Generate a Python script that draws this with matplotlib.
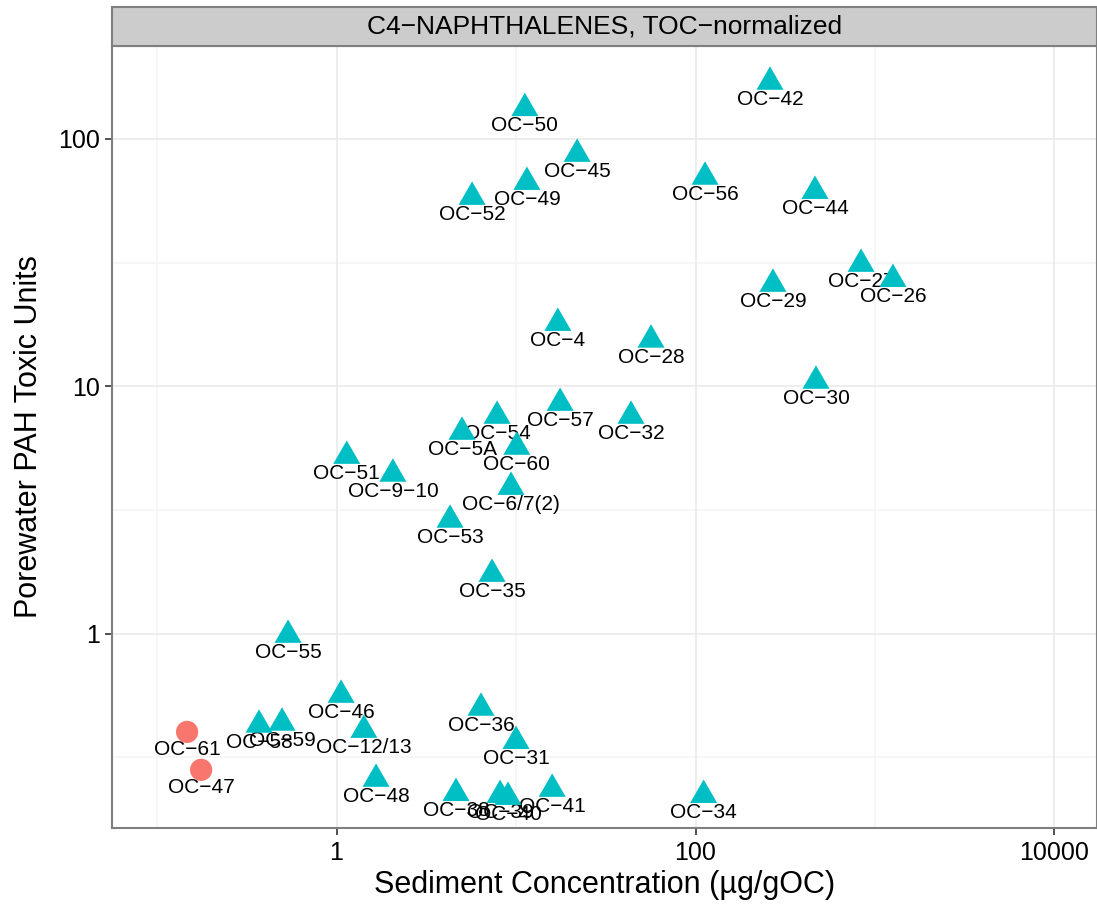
import matplotlib
matplotlib.use("Agg")
import matplotlib.pyplot as plt
from matplotlib.patches import Rectangle
import numpy as np

plt.rcParams['font.family'] = ['Liberation Sans', 'DejaVu Sans']

# Data
tri_labels = ["OC−42", "OC−50", "OC−45", "OC−56", "OC−49", "OC−52", "OC−44",
              "OC−27", "OC−26", "OC−29", "OC−4", "OC−28", "OC−30", "OC−57",
              "OC−32", "OC−54", "OC−5A", "OC−60", "OC−51", "OC−9−10",
              "OC−6/7(2)", "OC−53", "OC−35", "OC−55", "OC−46", "OC−36",
              "OC−58", "OC−59", "OC−12/13", "OC−31", "OC−48", "OC−38",
              "OC−39", "OC−40", "OC−41", "OC−34"]
tri_sediment = [260, 11.2, 21.9, 113, 11.5, 5.69, 463,
                836, 1259, 270, 17.1, 56.5, 469, 17.6,
                43.7, 7.84, 5.00, 10.1, 1.14, 2.06,
                9.38, 4.29, 7.35, 0.537, 1.06, 6.38,
                0.370, 0.497, 1.42, 10.0, 1.66, 4.63,
                8.15, 9.02, 15.9, 111]
tri_toxic = [170, 133, 86.9, 70.2, 66.9, 58.2, 61.5,
             31.2, 27.1, 25.9, 18.0, 15.4, 10.5, 8.55,
             7.58, 7.58, 6.53, 5.68, 5.22, 4.42,
             3.91, 2.88, 1.74, 0.986, 0.564, 0.500,
             0.427, 0.435, 0.407, 0.367, 0.258, 0.226,
             0.222, 0.218, 0.235, 0.222]

circ_labels = ["OC−61", "OC−47"]
circ_sediment = [0.147, 0.176]
circ_toxic = [0.400, 0.281]

x_ticks = [1, 100, 10000]
x_ticklabels = ["1", "100", "10000"]
y_ticks = [1, 10, 100]
y_ticklabels = ["1", "10", "100"]

W, H = 1097, 913
fig = plt.figure(figsize=(W / 100, H / 100), dpi=100)
left, right, bottom, top = 112, 1097, 828, 46
ax = fig.add_axes([left / W, 1 - bottom / H, (right - left) / W, (bottom - top) / H])

ax.set_xscale('log')
ax.set_yscale('log')
ax.set_xlim(0.0561, 17250)
ax.set_ylim(0.1635, 237.6)

# grid
for v in [0.1, 10, 1000]:
    ax.axvline(v, color='#F4F4F4', lw=1.1, zorder=0)
for v in [10 ** -0.5, 10 ** 0.5, 10 ** 1.5]:
    ax.axhline(v, color='#F4F4F4', lw=1.1, zorder=0)
for v in x_ticks:
    ax.axvline(v, color='#E8E8E8', lw=1.1, zorder=0)
for v in y_ticks:
    ax.axhline(v, color='#E8E8E8', lw=1.1, zorder=0)

tri_verts = [(0, 1), (-0.866, -0.5), (0.866, -0.5), (0, 1)]
ax.scatter(circ_sediment, circ_toxic, s=16 ** 2, marker='o', color='#F8766D',
           edgecolors='none', zorder=5)
ax.scatter(tri_sediment, tri_toxic, s=22.5 ** 2, marker=tri_verts, color='#00BFC4',
           edgecolors='none', zorder=5)

for lab, x, y in list(zip(tri_labels, tri_sediment, tri_toxic)) + list(zip(circ_labels, circ_sediment, circ_toxic)):
    ax.annotate(lab, (x, y), xytext=(0, -12.5), textcoords='offset points',
                ha='center', va='center', fontsize=15, color='black', zorder=4)

ax.set_xticks(x_ticks)
ax.set_xticklabels(x_ticklabels)
ax.set_yticks(y_ticks)
ax.set_yticklabels(y_ticklabels)
ax.minorticks_off()
ax.tick_params(axis='both', which='major', length=5, width=1.2, color='#333333',
               labelsize=18, labelcolor='black', pad=4)

for sp in ax.spines.values():
    sp.set_color('#7F7F7F')
    sp.set_linewidth(1.5)

ax.set_xlabel("Sediment Concentration (µg/gOC)", fontsize=22, labelpad=4)
ax.set_ylabel("Porewater PAH Toxic Units", fontsize=22, labelpad=10)

# strip
strip_top = 7
strip = Rectangle((left / W, 1 - top / H), (right - left) / W, (top - strip_top) / H,
                  transform=fig.transFigure, facecolor='#CCCCCC', edgecolor='#7F7F7F',
                  linewidth=1.5, clip_on=False)
fig.patches.append(strip)
fig.text((left + right) / 2 / W, 1 - (top + strip_top) / 2 / H,
         "C4−NAPHTHALENES, TOC−normalized", ha='center', va='center', fontsize=19)

fig.savefig("out.png", dpi=100)
